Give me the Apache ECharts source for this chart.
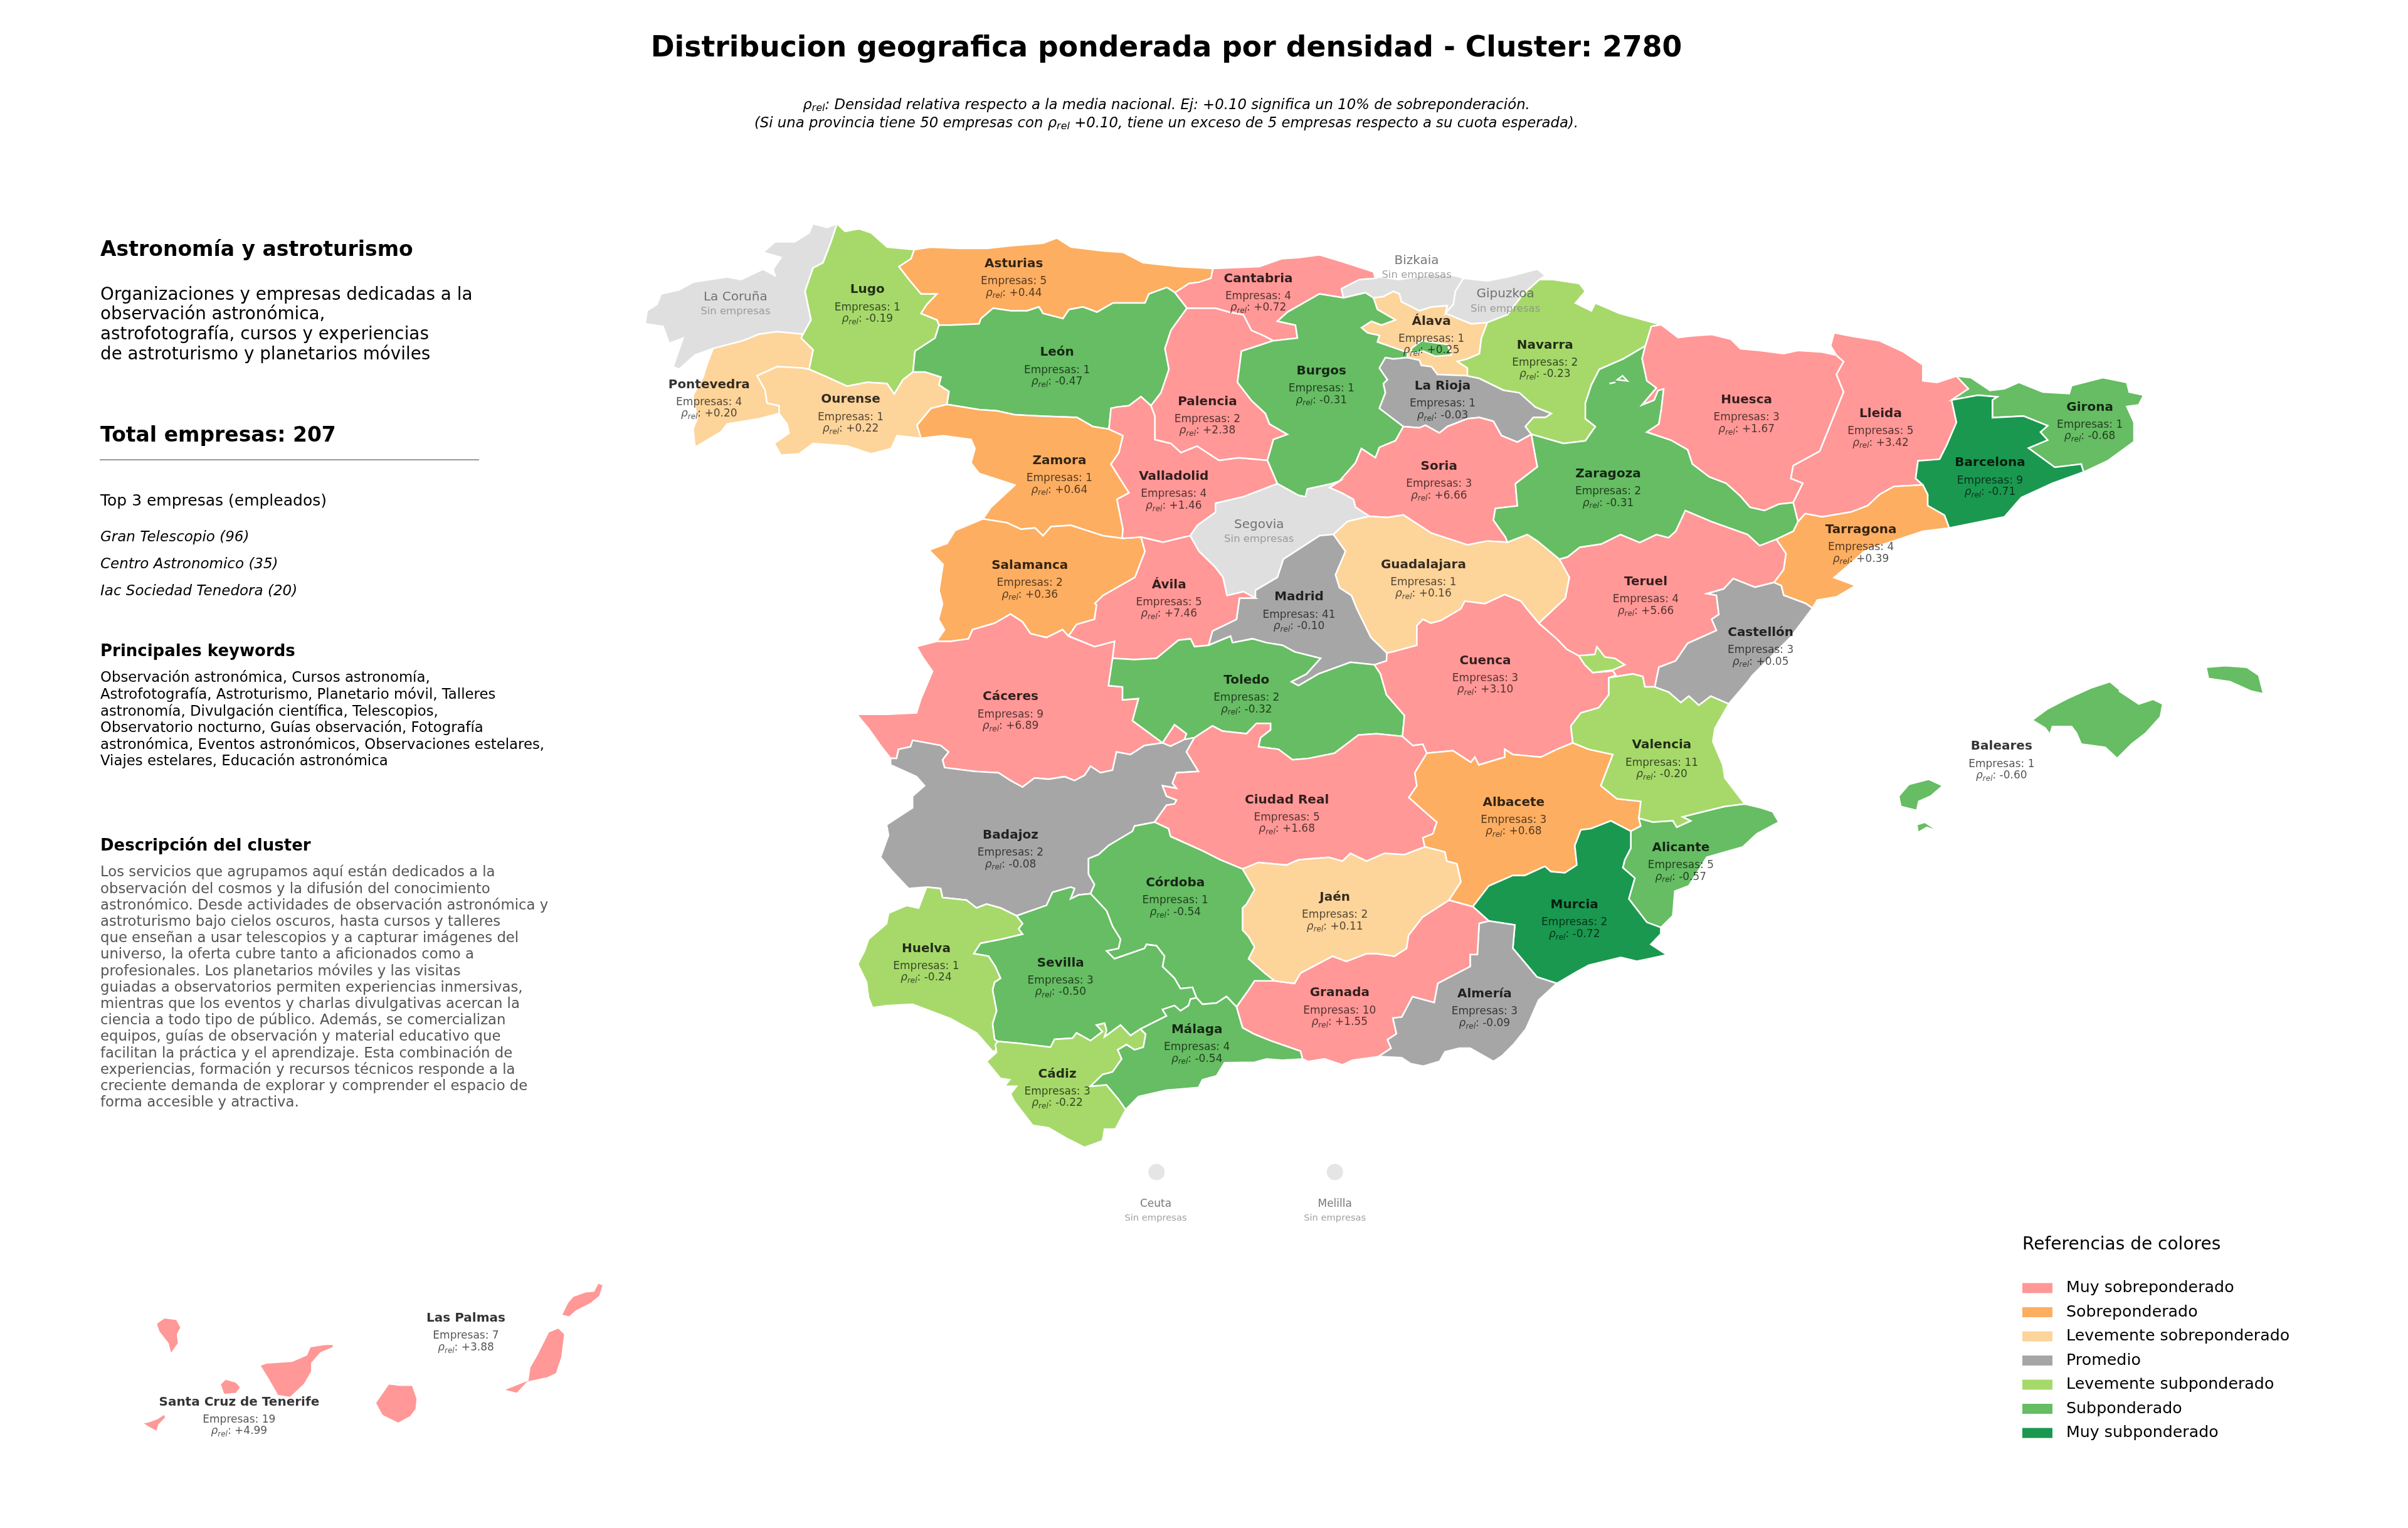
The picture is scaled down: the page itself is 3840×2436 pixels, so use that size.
<!DOCTYPE html>
<html><head><meta charset="utf-8">
<style>html,body{margin:0;padding:0;background:#fff}#c{width:3840px;height:2436px}</style>
<script src="https://cdn.jsdelivr.net/npm/echarts@6/dist/echarts.min.js"></script>
</head><body><div id="c"></div>
<script>
/* ---------- data ---------- */
const classLabels = ['Muy sobreponderado','Sobreponderado','Levemente sobreponderado','Promedio','Levemente subponderado','Subponderado','Muy subponderado'];
const classColors = ['#ff9896','#fdae61','#fdd49a','#a6a6a6','#a6d96a','#66bd63','#1a9850'];
const noDataColor = '#dfdfdf';
const provinces = ['Asturias','Lugo','León','Pontevedra','Ourense','Zamora','Palencia','Valladolid','Salamanca','Ávila','Cantabria','Navarra','Álava','Burgos','La Rioja','Huesca','Soria','Zaragoza','Guadalajara','Madrid','Teruel','Lleida','Girona','Barcelona','Tarragona','Castellón','Baleares','Cáceres','Toledo','Ciudad Real','Badajoz','Córdoba','Jaén','Cuenca','Huelva','Sevilla','Albacete','Valencia','Alicante','Murcia','Granada','Almería','Málaga','Cádiz','Las Palmas','Santa Cruz de Tenerife'];
const companies = [5,1,1,4,1,1,2,4,2,5,4,2,1,1,1,3,3,2,1,41,4,5,1,9,4,3,1,9,2,5,2,1,2,3,1,3,3,11,5,2,10,3,4,3,7,19];
const rhoRel = ['+0.44','-0.19','-0.47','+0.20','+0.22','+0.64','+2.38','+1.46','+0.36','+7.46','+0.72','-0.23','+0.25','-0.31','-0.03','+1.67','+6.66','-0.31','+0.16','-0.10','+5.66','+3.42','-0.68','-0.71','+0.39','+0.05','-0.60','+6.89','-0.32','+1.68','-0.08','-0.54','+0.11','+3.10','-0.24','-0.50','+0.68','-0.20','-0.57','-0.72','+1.55','-0.09','-0.54','-0.22','+3.88','+4.99'];
const classIndex = [1,4,5,2,2,1,0,0,1,0,0,4,2,5,3,0,0,5,2,3,0,0,5,6,1,3,5,0,5,0,3,5,2,0,4,5,1,4,5,6,0,3,5,4,0,0];
const emptyProvinces = ['La Coruña','Bizkaia','Gipuzkoa','Segovia'];
const cityDots = ['Ceuta','Melilla'];
const topCompanies = ['Gran Telescopio (96)','Centro Astronomico (35)','Iac Sociedad Tenedora (20)'];
const keywordLines = ['Observación astronómica, Cursos astronomía,','Astrofotografía, Astroturismo, Planetario móvil, Talleres','astronomía, Divulgación científica, Telescopios,','Observatorio nocturno, Guías observación, Fotografía','astronómica, Eventos astronómicos, Observaciones estelares,','Viajes estelares, Educación astronómica'];
const introLines = ['Organizaciones y empresas dedicadas a la','observación astronómica,','astrofotografía, cursos y experiencias','de astroturismo y planetarios móviles'];
const descLines = ['Los servicios que agrupamos aquí están dedicados a la','observación del cosmos y la difusión del conocimiento','astronómico. Desde actividades de observación astronómica y','astroturismo bajo cielos oscuros, hasta cursos y talleres','que enseñan a usar telescopios y a capturar imágenes del','universo, la oferta cubre tanto a aficionados como a','profesionales. Los planetarios móviles y las visitas','guiadas a observatorios permiten experiencias inmersivas,','mientras que los eventos y charlas divulgativas acercan la','ciencia a todo tipo de público. Además, se comercializan','equipos, guías de observación y material educativo que','facilitan la práctica y el aprendizaje. Esta combinación de','experiencias, formación y recursos técnicos responde a la','creciente demanda de explorar y comprender el espacio de','forma accesible y atractiva.'];

/* ---------- map geometry: traced boundary arcs; a letter sets the tracing sheet ---------- */
const sheets = {
 A:{x:1000,y:340,sx:1.568,sy:2.412}, B:{x:1900,y:340,sx:1.568,sy:2.412}, C:{x:2500,y:500,sx:1.3067,sy:1.96},
 D:{x:1350,y:950,sx:1.568,sy:2.412}, E:{x:2100,y:950,sx:1.568,sy:2.412}, F:{x:1350,y:1400,sx:1.568,sy:2.412},
 G:{x:2000,y:1250,sx:1.742,sy:2.613}, H:{x:150,y:1950,sx:1.742,sy:3}
};
const arcs = {
corCoast:'A 525,40 500,55 465,40 455,75 420,110 370,110 340,150 385,170 365,215 370,240 340,215 285,255 250,245 165,265 130,295 85,310 75,350 50,375 45,425 90,435 105,500 140,480 115,590 130,600 170,545 215,520',
corPon:'A 215,520 290,490 330,465 375,455 440,465',
corLug:'A 440,465 460,410 445,300 465,210 490,190 510,110 525,40',
lugCoast:'A 525,40 545,70 580,60 610,75 650,130 718,140',
lugAst:'A 718,140 710,175 680,205 705,255 735,310 775,310 750,350 735,385 775,410 780,430',
lugLeo:'A 780,430 770,480 720,530 715,610',
lugOur:'A 715,610 690,640 668,695 650,655 600,650 550,665 500,630 455,600',
lugPon:'A 455,600 465,525 435,480 440,465',
ponOur:'A 455,600 440,595 375,590 325,625 345,680 350,730 380,740 380,770',
ponCoast:'A 380,770 330,790 250,810 235,840 170,900 165,830 175,790 165,700 190,630 200,580 215,520',
ourLeo:'A 715,610 745,610 785,630 780,660 805,685 800,735',
ourZam:'A 800,735 760,750 725,815 735,865',
ourSouth:'A 735,865 675,855 660,905 610,925 550,895 465,885 430,925 385,930 368,885 405,845 400,810 380,770',
astCoast:'A 718,140 760,130 830,135 900,135 960,125 1040,115 1075,95 1110,130 1190,145 1240,150 1290,190 1380,205 1465,212',
astCan:'A 1465,212 1460,250 1430,265 1405,270 1370,305',
astLeo:'A 1370,305 1350,285 1305,310 1295,345 1250,345 1215,345 1175,380 1140,360 1105,370 1090,405 1040,385 1030,360 1000,375 960,375 915,365 885,405 880,425 810,430 780,430',
leoCan:'A 1370,305 1400,365',
leoPal:'A 1400,365 1360,450 1345,520 1355,600 1335,690 1310,740',
leoVal:'A 1310,740 1285,705 1255,740 1225,745 1210,750 1205,830',
leoZam:'A 1205,830 1165,820 1125,785 1040,780 970,775 925,760 880,755 800,735',
zamVal:'A 1205,830 1240,855 1230,920 1210,965 1255,1075 1225,1100 1240,1215 1238,1250',
zamSal:'A 1238,1250 1190,1240 1110,1200 1060,1205 1040,1240 1020,1210 985,1215 950,1190 890,1175',
zamPor:'A 890,1175 910,1130 970,1045 880,1000 860,960 870,905 860,870 790,855 735,865',
salVal:'A 1238,1250 1285,1245',
salAvi:'A 1285,1245 1295,1300 1270,1400 1190,1470 1170,1500 D 625,35 620,90 575,110 555,155',
salCac:'D 555,155 540,130 500,160 460,145 440,100 410,70 370,105 315,130 305,165 260,175 225,175',
salPor:'D 225,175 245,130 230,90 240,30 A 780,1450 790,1350 755,1295 800,1270 820,1220 890,1175',
valAvi:'A 1285,1245 1340,1265 1380,1250 1408,1240',
valSeg:'A 1408,1240 B 15,1200 60,1150 60,1115 130,1090 215,1040',
valBur:'B 215,1040 190,950',
valPal:'B 190,950 A 1530,940 1480,950 1425,895 1385,920 1360,885 1320,870 1320,780 1310,740',
palCan:'A 1400,365 B 60,365 95,380 130,390 150,450 180,470 205,490',
palBur:'B 205,490 165,510 125,530 120,590 115,650 150,720 185,770 195,810 240,850 205,870 190,950',
canCoast:'A 1465,212 B 170,205 225,175 270,170 320,160 375,185 455,225 460,250',
canBiz:'B 460,250 420,255 375,290 380,325',
canBur:'B 380,325 320,310 240,380 215,415 260,430 265,480 205,490',
burBiz:'B 380,325 435,305 455,325',
burAla:'B 455,325 465,370 510,410 475,430 450,415 425,440 440,460 470,470 465,495 540,535 540,555',
burRio:'B 540,555 505,560 485,555 470,595 490,640 480,655 485,690 470,750 530,820',
burSor:'B 530,820 510,875 470,900 460,940 425,905 410,960 370,1030',
burSeg:'B 370,1030 350,1040 290,1060 285,1090 268,1085 215,1040',
trevino:'B 550,520 575,490 640,505 650,545 610,550 580,530 550,540',
bizCoast:'B 460,250 470,245 520,255 600,235 660,240 680,250',
bizGip:'B 680,250 660,300 655,350 635,385',
bizAla:'B 635,385 640,355 600,360 570,375 525,340 520,310 505,300 480,320 455,325',
gipCoast:'B 680,250 740,260 790,245 865,215 885,240 870,255',
gipNav:'B 870,255 830,310 790,390 740,420',
gipAla:'B 740,420 700,425 635,385',
alaNav:'B 740,420 725,480 720,540 690,560 665,570 690,595 690,625',
alaRio:'B 690,625 615,620 600,590 575,585 570,565 540,555',
rioNav:'B 690,625 720,635 780,680 820,690 860,745 900,770 885,785 855,785 835,820 850,850',
rioSor:'B 850,850 815,880 775,855 755,800 720,785 690,790 640,820 620,845 585,815 570,825 530,820',
navFra:'B 870,255 905,255 970,270 985,300 960,345 1000,375 1010,345 1070,385 C 195,35',
navHue:'C 195,35 B 1150,435 1135,510',
navZar:'B 1135,510 1080,560 1020,600 1000,660 985,730 985,790 1010,820 985,875 930,885 850,850',
sorZar:'B 850,850 860,935 865,975 810,1040 815,1125 760,1135 755,1180 785,1245 790,1265',
sorGua:'B 790,1265 740,1260 690,1275 660,1260 600,1230 550,1180 530,1160 490,1170 445,1165',
sorSeg:'B 445,1165 410,1130 405,1100 375,1075 345,1055 370,1030',
segAvi:'A 1408,1240 1430,1300 1470,1360 1490,1400 1500,1470 B 130,1455 160,1480',
segMad:'B 160,1480 160,1450 215,1400 230,1330 320,1240 355,1235',
segGua:'B 355,1235 390,1185 445,1165',
aviMad:'B 160,1480 120,1480 D 975,90 915,135 905,190',
guaZar:'B 790,1265 840,1235 865,1260 920,1330',
guaTer:'B 920,1330 945,1400 935,1480 E 555,105',
guaCue:'E 555,105 525,50 510,20 470,-5 420,30 370,20 360,50 310,95 285,105 265,90 250,115 250,190 190,215 175,220',
guaMad:'E 175,220 135,160 100,50 B 400,1470 370,1440 360,1390 385,1300 355,1235',
madTol:'D 905,190 960,155 965,180 1015,165 1050,180 1090,190 1120,215 1185,240 1150,300 1112,330 1130,345 1180,300 1260,255 1320,265',
madCue:'D 1320,265 1350,250 1351,220',
aviTol:'D 905,190 870,195 860,165 830,170 775,240 720,245 665,240',
aviCac:'D 665,240 670,175 620,195 580,170 555,155',
cacTol:'D 665,240 655,345 690,350 690,400 730,395 715,480 790,565',
cacBad:'D 790,565 745,575 710,610 675,600 665,670 635,680 610,655 595,690 570,710 545,695 505,705 470,700 440,735 410,710 380,680 320,675 245,660 240,630 255,600 235,575 165,555 160,580 130,590 125,625 110,625',
cacPor:'D 110,625 85,575 55,510 25,455 100,455 175,450 185,400 215,290 190,235 175,195 225,175',
cacNotch:'D 790,565 820,495 850,530 845,552 810,578',
tolCue:'D 1320,265 1335,300 1350,380 1395,460 1390,540',
tolCR:'D 1390,540 1325,530 1280,535 1220,605 1155,625 1115,630 1080,590 1030,580 1035,545 1060,515 1060,490 1025,490 1000,530 940,520 915,500 870,545',
tolNotch:'D 870,545 845,552 850,530 820,495 790,565',
badNotch:'D 790,565 810,578 845,552 870,545',
badCR:'D 870,545 850,600 880,675 825,680 815,720 825,740 790,730 800,770 825,785 820,800 800,805 770,870',
badCor:'D 770,870 720,885 715,905 655,960 630,995 605,1010 605,1070 620,1110 610,1145',
badSev:'D 610,1145 580,1150 560,1165 570,1125 560,1120 515,1140 500,1190 425,1230',
badHue:'D 425,1230 385,1200 350,1185 325,1200 300,1170 240,1160 235,1125 200,1120',
badPor:'D 200,1120 155,1125 115,1060 85,1005 105,920 100,880 165,815 165,770 195,730 175,695 110,650 110,625',
cueCR:'E 275,605 265,570 240,575 215,545',
crAlb:'E 275,605 245,680 250,730 230,775 270,830 300,870 290,915 265,930 270,965',
crJae:'E 270,965 D 1395,995 1345,990 1300,1020 1260,990 1240,1020 1205,1005 1130,1015 1100,1035 1030,1025 990,1050',
crCor:'D 990,1050 935,1015 890,980 810,925 805,895 770,870',
cueTer:'E 555,105 600,165 625,205 655,230 670,265 690,295 740,288 748,305 730,315',
cueVal:'E 730,315 730,380 705,430 660,450 635,500 640,565',
cueAlb:'E 640,565 600,590 560,620 490,610 470,590 470,620 405,650 395,620 385,640 340,595 275,605',
albVal:'E 640,565 680,590 740,610 710,730 750,780 810,790 805,855',
albAli:'E 805,855 810,885 785,905',
albMur:'E 785,905 760,885 735,865 685,895 660,900 645,960 650,1035 620,1065 585,1060 570,1040 520,1075 490,1075 430,1115 390,1195',
albGra:'E 390,1195 330,1170',
albJae:'E 330,1170 360,1100 350,1030 325,1020 320,985 270,965',
rincon:'E 655,230 695,225 700,195 720,235 745,240 770,265 740,285 690,295 670,265',
valTer:'E 730,315 790,300 815,310 820,350 845,350',
valCas:'E 845,350 880,370 910,410 930,385 955,420 985,385 1030,415',
valCoast:'E 1030,415 995,510 990,560 1015,650 1020,700 1070,800',
valAli:'E 1070,800 1020,810 980,825 915,850 935,865 900,890 890,865 840,870 805,855',
aliCoast:'E 1070,800 1110,815 1140,830 1155,870 1100,915 1065,965 975,1005 930,1115 895,1135 890,1230 860,1275',
aliMur:'E 860,1275 825,1255 780,1165 795,1085 765,1045 770,1015 785,970 785,905',
murCoast:'E 860,1275 860,1300 835,1340 875,1380 830,1395 800,1405 760,1390 720,1405 680,1420 650,1445 600,1490',
murAlm:'E 600,1490 550,1465 490,1355 495,1265 430,1250',
murGra:'E 430,1250 390,1195',
almCoast:'E 600,1490 G 790,900 755,1020 720,1085 690,1130 665,1155 600,1100 570,1100 530,1115 515,1155 470,1175 435,1165 410,1140 345,1135',
almGra:'G 345,1135 380,1100 370,1065 395,1040 385,975 410,970 440,885 500,910 510,830 600,760 600,710 620,710 625,580 E 430,1250',
graJae:'E 330,1170 F 1440,150 1405,220 1400,270 1370,300 1325,290 1300,290 1250,320 1215,300 1135,365 1120,405 1070,395',
graCor:'F 1070,395 1020,395 1005,430 975,495',
graMal:'F 975,495 990,575 1020,600 1060,625 1135,665 1140,695',
graCoast:'F 1140,695 1155,705 1195,695 1240,718 1265,700 G 345,1135',
jaeCor:'F 1070,395 D 1045,1450 1005,1395 1020,1350 1005,1310 990,1285 990,1200 1000,1185 1020,1130 990,1050',
corMal:'F 975,495 950,455 925,480 890,485 875,460',
corSev:'F 875,460 865,420 835,425 820,385 790,340 795,300 775,260 750,255 745,270 670,310 650,280 680,270 685,235 665,185 650,125 D 610,1145',
sevHue:'D 425,1230 F 440,175 430,195 440,215 385,235 335,250 318,290 355,300 372,340 385,385 370,400 365,430 375,510 365,560 370,620 378,628',
sevCad:'F 378,628 430,635 510,650 520,620 565,615 575,595 610,625 640,590 625,565 645,558 650,585 645,610 685,565 710,605 735,580',
sevMal:'F 735,580 800,530 790,505 820,490 835,510 855,490 860,465 875,460',
hueCoast:'F 378,628 372,665 365,665 325,595 260,540 165,485 100,490 65,498 55,460 50,400 28,330 45,280 55,235 100,175 105,135 150,105 180,115 D 200,1120',
cadMal:'F 735,580 748,600 742,650 720,660 700,640 678,660 688,695 665,745 640,755 610,800 650,795 680,850 698,890',
cadCoast:'F 698,890 672,965 645,965 640,1010 595,1035 550,1000 505,960 465,950 420,860 410,830 425,800 395,800 408,775 385,770 350,705 375,670 372,640 378,628',
malCoast:'F 698,890 730,840 800,815 880,805 890,775 925,760 945,710 1020,708 1050,695 1090,700 1140,695',
zarHue:'B 1135,510 C 155,140 165,210 185,232 155,285 180,270 188,240 200,235 195,300 190,345 165,370 215,395 250,425 260,470 295,510 330,530 360,570 380,605 410,615 440,595 470,590',
zarLle:'C 470,590 480,650',
zarTar:'C 480,650 470,680 435,705',
zarTer:'C 435,705 400,725 375,690 300,650 245,615 225,680 210,700 185,690 150,715 110,690 70,720 25,730 0,760 B 920,1330',
petilla1:'B 1045,655 1060,650 1055,665',
petilla2:'B 1065,640 1078,625 1090,645',
hueTop:'C 195,35 230,75 255,70 300,65 340,80 360,110 400,115 450,125 480,115 530,120 560,130',
hueLle:'C 560,130 575,150 560,190 575,245 560,300 540,375 525,430 470,475 465,515 490,530 470,590',
lleTop:'C 560,130 548,100 555,60 590,70 650,85 700,120 740,160 740,210 770,215 810,195',
lleGir:'C 810,195 835,235 800,270',
lleBar:'C 800,270 810,340 790,410 775,455 730,460 725,515 740,535',
lleTar:'C 740,535 680,540 650,565 625,600 590,620 530,635 495,625 480,650',
girCoast:'C 810,195 840,200 880,240 910,235 940,215 990,245 1045,250 1050,225 1115,200 1165,215 1170,245 1200,255 1190,285 1165,290 1180,340 1180,400 1125,460 1075,495',
girBar:'C 1075,495 1070,470 1015,480 960,420 1000,395 985,370 1000,350 950,320 885,325 885,270 895,260 855,255 800,270',
barCoast:'C 1075,495 1010,530 945,575 910,635 795,670',
barTar:'C 795,670 785,630 750,600 750,565 740,535',
tarCoast:'C 795,670 740,680 690,705 620,740 590,780 555,825 600,850 560,885 520,895 510,920',
tarCas:'C 510,920 495,905 450,880 445,850 430,840',
tarTer:'C 430,840 450,800 455,750 435,705',
columbretes:'C 535,908 555,902 548,911',
casCoast:'C 510,920 465,1010 385,1130 375,1150 E 1030,415',
casTer:'E 845,350 C 190,1105 225,1085 250,1030 310,990 300,955 315,940 310,880 290,875 325,860 345,828 390,855 430,840',
mallorca:'C 968,1270 1000,1235 1045,1200 1090,1170 1130,1150 1150,1175 1175,1140 1150,1180 1165,1195 1190,1220 1220,1205 1240,1220 1235,1260 1205,1310 1175,1345 1145,1390 1120,1355 1070,1345 1060,1310 1050,1290 1010,1290 1005,1315 995,1295',
menorca:'C 1330,1105 1370,1100 1415,1105 1440,1130 1450,1188 1425,1180 1380,1150 1335,1140',
ibiza:'E 1455,770 1480,725 1530,705 1565,730 1535,770 1505,790 1500,825 1460,810',
formentera:'E 1500,880 1520,870 1555,905 1525,890 1503,910',
laPalma:'H 172,480 195,452 230,460 242,500 232,530 235,575 213,628 205,575 180,520',
tenerife:'H 460,680 480,668 550,660 590,630 600,590 640,580 665,578 665,595 630,620 605,670 605,710 585,770 545,835 510,825 485,750',
gomera:'H 350,770 365,745 395,760 408,785 395,815 360,820 348,790',
hierro:'H 133,955 150,950 175,935 195,912 200,930 180,965 175,998 150,975 133,965',
granCanaria:'H 781,860 818,768 850,775 885,775 898,840 895,890 880,925 845,958 800,920',
lanzarote:'H 1298,440 1315,380 1330,350 1365,328 1388,325 1400,285 1415,295 1405,350 1380,385 1340,420 1320,450',
fuerteventura:'H 1135,798 1205,750 1210,690 1230,630 1262,520 1290,500 1308,530 1300,640 1285,720 1260,740 1205,760 1175,815',
graciosa:'H 1390,275 1395,258 1400,265'
};
/* each province: list of polygons, each a list of arcs ('-' = walked backwards). Later ones paint over earlier ones. */
const regionRings = [
['La Coruña',[['corCoast','corPon','corLug']]],
['Lugo',[['lugCoast','lugAst','lugLeo','lugOur','lugPon','corLug']]],
['Pontevedra',[['corPon','-lugPon','ponOur','ponCoast']]],
['Ourense',[['-lugOur','ourLeo','ourZam','ourSouth','-ponOur']]],
['Asturias',[['astCoast','astCan','astLeo','-lugAst']]],
['León',[['-astLeo','leoCan','leoPal','leoVal','leoZam','-ourLeo','-lugLeo']]],
['Zamora',[['-leoZam','zamVal','zamSal','zamPor','-ourZam']]],
['Salamanca',[['-zamSal','salVal','salAvi','salCac','salPor']]],
['Valladolid',[['zamVal','salVal','valAvi','valSeg','valBur','valPal','leoVal']]],
['Palencia',[['-leoPal','palCan','palBur','valPal']]],
['Cantabria',[['canCoast','canBiz','canBur','-palCan','-leoCan','-astCan']]],
['Álava',[['-bizAla','-gipAla','alaNav','alaRio','-burAla']]],
['Burgos',[['-canBur','burBiz','burAla','burRio','burSor','burSeg','valBur','-palBur'],['trevino']]],
['Bizkaia',[['bizCoast','bizGip','bizAla','-burBiz','-canBiz']]],
['Gipuzkoa',[['gipCoast','gipNav','gipAla','-bizGip']]],
['La Rioja',[['-alaRio','rioNav','rioSor','-burRio']]],
['Navarra',[['navFra','navHue','navZar','-rioNav','-alaNav','-gipNav']]],
['Soria',[['-rioSor','sorZar','sorGua','sorSeg','-burSor']]],
['Segovia',[['-valSeg','segAvi','segMad','segGua','sorSeg','burSeg']]],
['Guadalajara',[['segGua','-sorGua','guaZar','guaTer','guaCue','guaMad']]],
['Madrid',[['-segMad','aviMad','madTol','madCue','guaMad']]],
['Ávila',[['valAvi','segAvi','aviMad','aviTol','aviCac','-salAvi']]],
['Cáceres',[['-aviCac','cacTol','cacBad','cacPor','-salCac'],['cacNotch']]],
['Toledo',[['-aviTol','madTol','tolCue','tolCR','tolNotch','-cacTol']]],
['Badajoz',[['-cacBad','badNotch','badCR','badCor','badSev','badHue','badPor']]],
['Ciudad Real',[['-badCR','-tolCR','-cueCR','crAlb','crJae','crCor']]],
['Cuenca',[['-guaCue','cueTer','cueVal','cueAlb','cueCR','-tolCue','madCue']]],
['Teruel',[['-tarTer','-casTer','-valTer','-cueTer','-guaTer','-zarTer']]],
['Albacete',[['-cueAlb','albVal','albAli','albMur','albGra','albJae','-crAlb']]],
['Valencia',[['valTer','valCas','valCoast','valAli','-albVal','-cueVal'],['rincon']]],
['Alicante',[['-valAli','aliCoast','aliMur','-albAli']]],
['Murcia',[['-aliMur','murCoast','murAlm','murGra','-albMur']]],
['Almería',[['-murAlm','almCoast','almGra']]],
['Granada',[['murGra','albGra','graJae','graCor','graMal','graCoast','almGra']]],
['Jaén',[['-crJae','-albJae','graJae','jaeCor']]],
['Córdoba',[['-crCor','-jaeCor','graCor','corMal','corSev','-badCor']]],
['Sevilla',[['badSev','sevHue','sevCad','sevMal','corSev']]],
['Huelva',[['-badHue','sevHue','hueCoast']]],
['Cádiz',[['sevCad','cadMal','cadCoast']]],
['Málaga',[['-sevMal','cadMal','malCoast','-graMal','corMal']]],
['Zaragoza',[['-navZar','zarHue','zarLle','zarTar','zarTer','-guaZar','-sorZar'],['petilla1'],['petilla2']]],
['Huesca',[['hueTop','hueLle','-zarHue','-navHue']]],
['Lleida',[['lleTop','lleGir','lleBar','lleTar','-zarLle','-hueLle']]],
['Girona',[['girCoast','girBar','-lleGir']]],
['Barcelona',[['-girBar','barCoast','barTar','-lleBar']]],
['Tarragona',[['-lleTar','-barTar','tarCoast','tarCas','tarTer','-zarTar'],['columbretes']]],
['Castellón',[['-tarCas','casCoast','-valCas','casTer']]],
['Baleares',[['mallorca'],['menorca'],['ibiza'],['formentera']]],
['Santa Cruz de Tenerife',[['laPalma'],['tenerife'],['gomera'],['hierro']]],
['Las Palmas',[['granCanaria'],['lanzarote'],['fuerteventura'],['graciosa']]]
];
/* where each province's name sits */
const nameSpots = {
'La Coruña':'A 271,318','Lugo':'A 601,290','Asturias':'A 967,190','León':'A 1075,531','Pontevedra':'A 205,655','Ourense':'A 559,712','Zamora':'A 1081,947','Palencia':'A 1451,720','Valladolid':'A 1367,1008','Salamanca':'A 1007,1350','Ávila':'A 1355,1424',
'Cantabria':'B 167,247','Bizkaia':'B 563,177','Gipuzkoa':'B 785,307','Navarra':'B 884,503','Álava':'B 600,411','Burgos':'B 325,602','La Rioja':'B 628,661','Huesca':'B 1388,714','Soria':'B 619,969','Zaragoza':'B 1042,998','Segovia':'B 169,1193','Guadalajara':'B 580,1347','Madrid':'B 269,1472','Teruel':'B 1136,1413',
'Lleida':'C 652,309','Girona':'C 1088,289','Barcelona':'C 880,463','Tarragona':'C 611,672','Castellón':'C 402,993','Baleares':'C 904,1349','Valencia':'C 196,1345',
'Toledo':'D 1000,320','Cáceres':'D 410,384','Ciudad Real':'D 1101,780','Badajoz':'D 410,916','Córdoba':'D 822,1100','Jaén':'D 1221,1155','Huelva':'D 199,1352','Sevilla':'D 535,1407',
'Cuenca':'E 421,245','Albacete':'E 492,790','Alicante':'E 910,964','Murcia':'E 644,1184',
'Granada':'F 1233,437','Málaga':'F 876,578','Cádiz':'F 527,749','Ceuta':'F 773,1248','Melilla':'F 1221,1248','Almería':'G 640,870',
'Las Palmas':'H 1033,450','Santa Cruz de Tenerife':'H 403,850'
};
const dotSpots = {'Ceuta':'F 775,1130','Melilla':'F 1221,1130'};

/* ---------- build ---------- */
function parsePath(str){
  let s=null; const out=[];
  str.trim().split(/\s+/).forEach(t=>{
    if(/^[A-Z]$/.test(t)){ s=sheets[t]; return; }
    const p=t.split(',').map(Number); out.push([s.x+p[0]/s.sx, s.y+p[1]/s.sy]);
  });
  return out;
}
const ends=[];
function snap(p){
  for(const q of ends){ if(Math.hypot(p[0]-q[0],p[1]-q[1])<8) return q; }
  ends.push(p); return p;
}
const parsed={};
Object.keys(arcs).forEach(k=>{
  const a=parsePath(arcs[k]);
  a[0]=snap(a[0]); a[a.length-1]=snap(a[a.length-1]);
  parsed[k]=a;
});
function buildRing(list){
  const r=[];
  list.forEach(n=>{
    const rev=n[0]==='-'; const a=parsed[rev?n.slice(1):n];
    (rev?a.slice().reverse():a).forEach(p=>{
      const l=r[r.length-1];
      if(!l||l[0]!==p[0]||l[1]!==p[1]) r.push(p);
    });
  });
  const f=r[0],l=r[r.length-1];
  if(f[0]!==l[0]||f[1]!==l[1]) r.push(f);
  return r.map(p=>[p[0],-p[1]]);
}
let minX=1e9,minY=1e9,maxX=-1e9,maxY=-1e9;
const features=regionRings.map(([name,polys])=>{
  const coords=polys.map(pl=>[buildRing(pl)]);
  coords.forEach(c=>c[0].forEach(p=>{minX=Math.min(minX,p[0]);maxX=Math.max(maxX,p[0]);minY=Math.min(minY,-p[1]);maxY=Math.max(maxY,-p[1]);}));
  return {type:'Feature',properties:{name},geometry:{type:'MultiPolygon',coordinates:coords}};
});
echarts.registerMap('espana',{type:'FeatureCollection',features});

const spot=s=>{const p=parsePath(s)[0];return [p[0],-p[1]];};
const F='DejaVu Sans';
const ink='rgba(0,0,0,0.85)';

const companyLabels=provinces.map((n,i)=>({name:n,value:spot(nameSpots[n]),companies:companies[i],rho:rhoRel[i]}));
const emptyLabels=emptyProvinces.map(n=>({name:n,value:spot(nameSpots[n])}));
const cityLabels=cityDots.map(n=>({name:n,value:spot(nameSpots[n])}));

const line=(x,y,text,size,extra)=>({type:'text',silent:true,x,y:y+2.5,style:Object.assign({text,fontFamily:F,fontSize:size,fill:'#000',align:'left',verticalAlign:'middle'},extra||{})});
const supRich={i:{fontFamily:F,fontStyle:'italic',fontSize:22.8,fill:'#000',lineHeight:26},s:{fontFamily:F,fontStyle:'italic',fontSize:16,fill:'#000',lineHeight:18,verticalAlign:'bottom'}};
const els=[
 line(1860,75.5,'Distribucion geografica ponderada por densidad - Cluster: 2780',45.7,{fontWeight:'bold',align:'center'}),
 {type:'text',silent:true,x:1860,y:168,style:{text:'{i|ρ}{s|rel}{i|: Densidad relativa respecto a la media nacional. Ej: +0.10 significa un 10% de sobreponderación.}',rich:supRich,align:'center',verticalAlign:'middle'}},
 {type:'text',silent:true,x:1860,y:197,style:{text:'{i|(Si una provincia tiene 50 empresas con ρ}{s|rel}{i| +0.10, tiene un exceso de 5 empresas respecto a su cuota esperada).}',rich:supRich,align:'center',verticalAlign:'middle'}},
 line(160,397,'Astronomía y astroturismo',33,{fontWeight:'bold'}),
 line(160,693,'Total empresas: 207',33,{fontWeight:'bold'}),
 {type:'line',silent:true,shape:{x1:159,y1:733,x2:764,y2:733},style:{stroke:'#999',lineWidth:2}},
 line(160,797,'Top 3 empresas (empleados)',25),
 line(160,1037,'Principales keywords',26,{fontWeight:'bold'}),
 line(160,1347,'Descripción del cluster',26,{fontWeight:'bold'}),
 line(3225,1982,'Referencias de colores',28)
];
introLines.forEach((t,i)=>els.push(line(160,468+i*31.7,t,27.8)));
topCompanies.forEach((t,i)=>els.push(line(160,855+i*43,t,23,{fontStyle:'italic'})));
keywordLines.forEach((t,i)=>els.push(line(160,1079+i*26.6,t,22.8)));
descLines.forEach((t,i)=>els.push(line(160,1389+i*26.2,t,22.77,{fill:'#555'})));

const chart=echarts.init(document.getElementById('c'),null,{renderer:'canvas',width:3840,height:2436});
chart.setOption({
 animation:false,
 backgroundColor:'#fff',
 graphic:{elements:els},
 geo:{map:'espana',silent:true,roam:false,aspectScale:1,left:minX,top:minY,width:maxX-minX,height:maxY-minY,
  label:{show:false},itemStyle:{areaColor:noDataColor,borderColor:'#fff',borderWidth:2.5},
  emphasis:{disabled:true},select:{disabled:true}},
 visualMap:{type:'piecewise',seriesIndex:0,orient:'vertical',inverse:true,left:3225,top:2041,padding:0,itemWidth:48,itemHeight:16,itemGap:13.5,textGap:22,
  selectedMode:false,hoverLink:false,showLabel:true,align:'left',itemSymbol:'rect',
  textStyle:{fontFamily:F,fontSize:25.3,color:'#000'},
  pieces:classLabels.map((label,i)=>({value:i,label,color:classColors[i]})),
  outOfRange:{color:noDataColor}},
 series:[
  {type:'map',geoIndex:0,data:provinces.map((n,i)=>({name:n,value:classIndex[i]}))},
  {type:'scatter',coordinateSystem:'geo',geoIndex:0,silent:true,symbol:'circle',symbolSize:26,itemStyle:{color:noDataColor},z:3,
   data:cityDots.map(n=>({name:n,value:spot(dotSpots[n])}))},
  {type:'scatter',coordinateSystem:'geo',geoIndex:0,silent:true,symbolSize:0,z:5,data:companyLabels,
   label:{show:true,position:'inside',offset:[0,20.5],align:'center',verticalAlign:'middle',
    formatter:p=>`{n|${p.data.name}}\n{e|Empresas: ${p.data.companies}}\n{r|ρ}{s|rel}{v|: ${p.data.rho}}`,
    rich:{
     n:{fontFamily:F,fontWeight:'bold',fontSize:20,color:'#000',lineHeight:41,align:'center'},
     e:{fontFamily:F,fontSize:17,color:ink,lineHeight:15,align:'center'},
     r:{fontFamily:F,fontStyle:'italic',fontSize:17,color:ink,lineHeight:22},
     s:{fontFamily:F,fontStyle:'italic',fontSize:12,color:ink,lineHeight:14,verticalAlign:'bottom'},
     v:{fontFamily:F,fontSize:17,color:ink,lineHeight:22}
    }}},
  {type:'scatter',coordinateSystem:'geo',geoIndex:0,silent:true,symbolSize:0,z:5,data:emptyLabels,
   label:{show:true,position:'inside',offset:[0,13.5],align:'center',verticalAlign:'middle',
    formatter:p=>`{n|${p.data.name}}\n{e|Sin empresas}`,
    rich:{
     n:{fontFamily:F,fontSize:20,color:'#555',lineHeight:23,align:'center'},
     e:{fontFamily:F,fontSize:16.5,color:'#8a8a8a',lineHeight:23,align:'center'}
    }}},
  {type:'scatter',coordinateSystem:'geo',geoIndex:0,silent:true,symbolSize:0,z:5,data:cityLabels,
   label:{show:true,position:'inside',offset:[0,13.5],align:'center',verticalAlign:'middle',
    formatter:p=>`{n|${p.data.name}}\n{e|Sin empresas}`,
    rich:{
     n:{fontFamily:F,fontSize:17,color:'#555',lineHeight:23,align:'center'},
     e:{fontFamily:F,fontSize:14.7,color:'#8a8a8a',lineHeight:23,align:'center'}
    }}}
 ]
});
</script></body></html>
